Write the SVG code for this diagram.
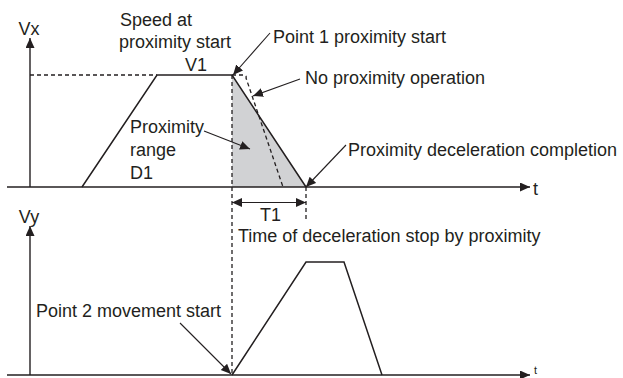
<svg xmlns="http://www.w3.org/2000/svg" width="623" height="378" viewBox="0 0 623 378">
<defs>
<marker id="ah" markerUnits="userSpaceOnUse" markerWidth="12" markerHeight="10" refX="10" refY="4.5" orient="auto">
<path d="M0,0 L10,4.5 L0,9 Z" fill="#231f20"/>
</marker>
<style>
text{font-family:"Liberation Sans",Arial,sans-serif;font-size:18px;fill:#231f20}
.ln{stroke:#231f20;stroke-width:1.5;fill:none}
.ax{stroke:#231f20;stroke-width:1.4;fill:none}
.ds{stroke:#231f20;stroke-width:1.3;fill:none;stroke-dasharray:4 3}
.ld{stroke:#231f20;stroke-width:1.1;fill:none;marker-end:url(#ah)}
</style>
</defs>
<rect width="623" height="378" fill="#ffffff"/>
<g id="top-chart">
<polygon points="232,75 306,187 232,187" fill="#d1d2d4"/>
<line class="ds" x1="30" y1="75" x2="157" y2="75"/>
<polyline class="ln" points="82,187 157,75 232,75 306,187"/>
<path class="ds" d="M232,75 L243,75 Q247,75 246,78 L283,187"/>
<line class="ds" x1="306" y1="187" x2="306" y2="220"/>
<line class="ax" x1="30" y1="187" x2="30" y2="38" marker-end="url(#ah)"/>
<line class="ax" x1="7" y1="187" x2="530" y2="187" marker-end="url(#ah)"/>
<text x="29" y="35" text-anchor="middle">Vx</text>
<text x="533" y="195">t</text>
</g>
<g id="bottom-chart">
<polyline class="ln" points="232,375 306,262 344,262 382,375"/>
<line class="ax" x1="30" y1="375" x2="30" y2="226" marker-end="url(#ah)"/>
<line class="ax" x1="7" y1="375" x2="530" y2="375" marker-end="url(#ah)"/>
<text x="29" y="223" text-anchor="middle">Vy</text>
<text x="534" y="374" style="font-size:11px">t</text>
</g>
<g id="divider">
<line class="ds" x1="232" y1="75" x2="232" y2="375"/>
</g>
<g id="label-speed">
<text x="120" y="26">Speed at</text>
<text x="119" y="48">proximity start</text>
<text x="185" y="71">V1</text>
</g>
<g id="label-point1">
<text x="273" y="43">Point 1 proximity start</text>
</g>
<g id="label-noprox">
<text x="305" y="84">No proximity operation</text>
</g>
<g id="label-range">
<text x="130" y="133">Proximity</text>
<text x="130" y="156">range</text>
<text x="130" y="179">D1</text>
</g>
<g id="label-completion">
<text x="348" y="156">Proximity deceleration completion</text>
</g>
<g id="label-t1">
<text x="260" y="221">T1</text>
<text x="238" y="242">Time of deceleration stop by proximity</text>
</g>
<g id="label-point2">
<text x="36" y="317">Point 2 movement start</text>
</g>
<g id="connectors">
<line class="ld" x1="270" y1="33" x2="233" y2="75"/>
<line class="ld" x1="300" y1="79" x2="253" y2="96"/>
<line class="ld" x1="204" y1="131" x2="250" y2="149"/>
<line class="ld" x1="346" y1="145" x2="306" y2="187"/>
<line class="ld" x1="180" y1="323" x2="231" y2="374"/>
<line class="ld" x1="269" y1="202.5" x2="232" y2="202.5"/>
<line class="ld" x1="269" y1="202.5" x2="306" y2="202.5"/>
</g>
</svg>
